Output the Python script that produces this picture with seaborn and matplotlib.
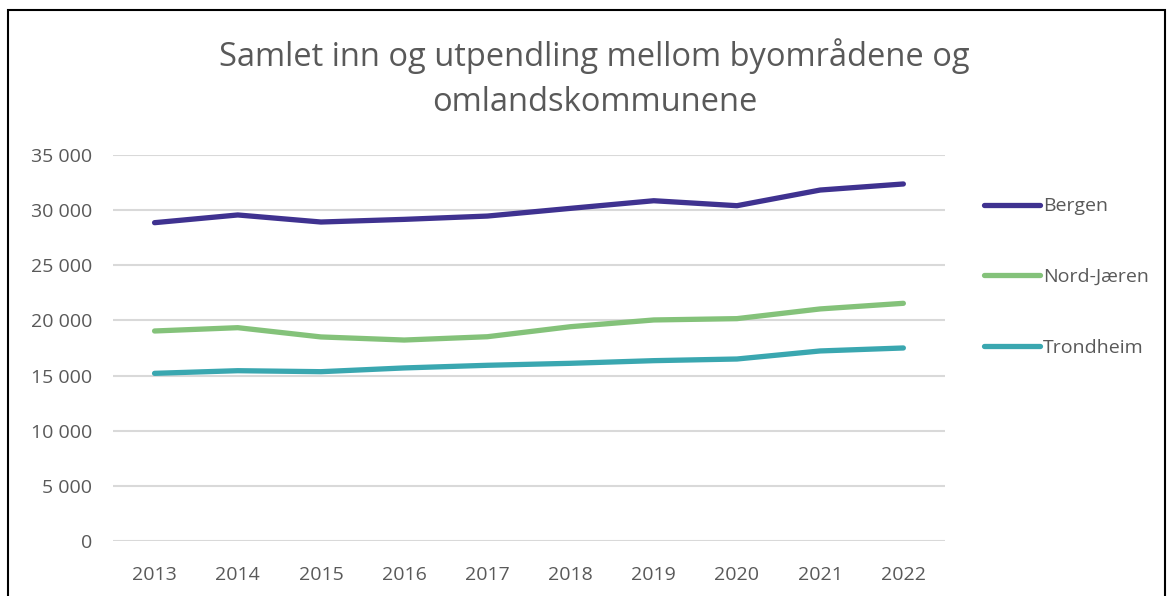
import numpy as np
import pandas as pd
import matplotlib
matplotlib.use("Agg")
import matplotlib.pyplot as plt
from matplotlib.patches import Rectangle
from matplotlib.ticker import FuncFormatter
import seaborn as sns

years = ["2013", "2014", "2015", "2016", "2017", "2018", "2019", "2020", "2021", "2022"]
bergen = [28860, 29560, 28920, 29160, 29460, 30160, 30850, 30400, 31820, 32370]
nord_jaeren = [19040, 19340, 18500, 18220, 18520, 19430, 20040, 20160, 21040, 21550]
trondheim = [15200, 15440, 15350, 15690, 15930, 16110, 16350, 16500, 17230, 17500]
series = ["Bergen", "Nord-Jæren", "Trondheim"]
colors = ["#3F3290", "#84C27A", "#3AA7B0"]

df = pd.DataFrame({
    "year": years * 3,
    "value": bergen + nord_jaeren + trondheim,
    "region": [s for s in series for _ in years],
})

sns.set_style("white")
plt.rcParams["font.family"] = ["Open Sans", "DejaVu Sans"]
txt = "#595959"

fig = plt.figure(figsize=(11.73, 5.96), dpi=100)
ax = fig.add_axes([0.0963, 0.0923, 0.7093, 0.6477])

sns.lineplot(data=df, x="year", y="value", hue="region", palette=colors,
             linewidth=3.8, ax=ax, sort=False, legend=True)
for ln in ax.lines:
    ln.set_solid_capstyle("round")
    ln.set_solid_joinstyle("round")

ax.set_xlim(-0.5, 9.5)
ax.set_ylim(0, 35000)
ax.set_yticks(np.arange(0, 35001, 5000))
ax.yaxis.set_major_formatter(FuncFormatter(lambda v, p: f"{int(v):,}".replace(",", " ")))
ax.grid(axis="y", color="#D9D9D9", linewidth=1.5)
ax.set_axisbelow(True)
for s in ax.spines.values():
    s.set_visible(False)
ax.tick_params(axis="both", length=0, labelsize=14, colors=txt)
ax.tick_params(axis="y", pad=15)
ax.tick_params(axis="x", pad=18)
ax.set_xlabel("")
ax.set_ylabel("")

handles, labels = ax.get_legend_handles_labels()
ax.get_legend().remove()
leg = fig.legend(handles, labels, loc="upper left", bbox_to_anchor=(0.832, 0.682),
                 frameon=False, fontsize=14, labelspacing=2.72, handlelength=2.9,
                 handletextpad=0.15, borderaxespad=0)
for t in leg.get_texts():
    t.set_color(txt)
for h in leg.get_lines():
    h.set_linewidth(3.8)
    h.set_solid_capstyle("round")

fig.text(0.507, 0.868, "Samlet inn og utpendling mellom byområdene og\nomlandskommunene",
         ha="center", va="center", fontsize=23.5, color=txt, linespacing=1.45)

fig.patches.append(Rectangle((8 / 1173, -0.05), 1157 / 1173, 1.05 - 10 / 596,
                             transform=fig.transFigure, fill=False,
                             edgecolor="black", linewidth=1.5))

fig.savefig("out.png", dpi=100)
